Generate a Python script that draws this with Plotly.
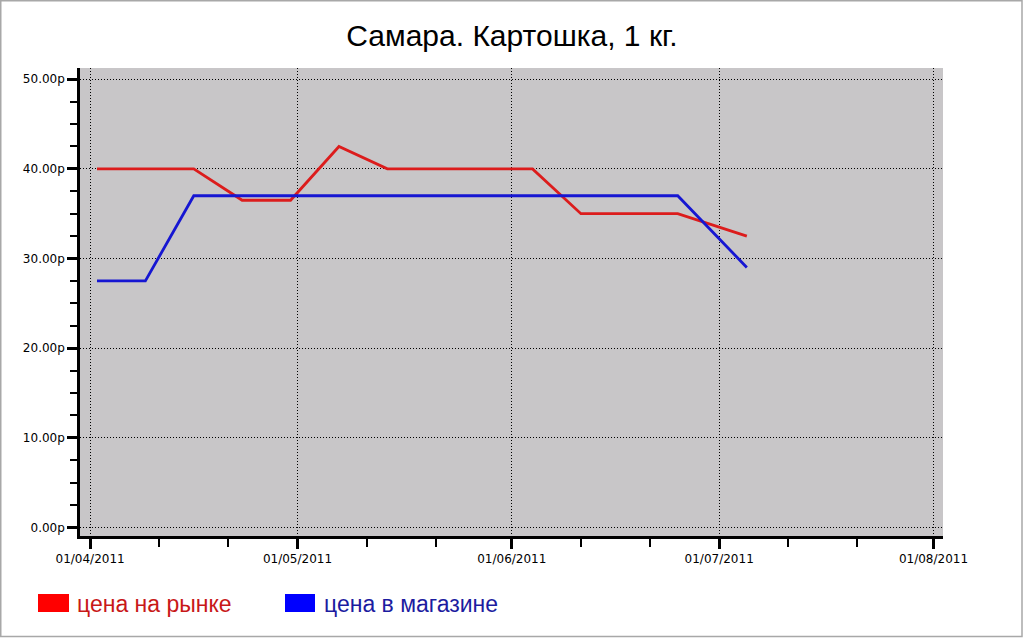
import plotly.graph_objects as go

# ---- data ----
dates = ["2011-04-02", "2011-04-09", "2011-04-16", "2011-04-23", "2011-04-30",
         "2011-05-07", "2011-05-14", "2011-05-21", "2011-05-28", "2011-06-04",
         "2011-06-11", "2011-06-18", "2011-06-25", "2011-07-05"]
market = [40, 40, 40, 36.5, 36.5, 42.5, 40, 40, 40, 40, 35, 35, 35, 32.5]
store = [27.5, 27.5, 37, 37, 37, 37, 37, 37, 37, 37, 37, 37, 37, 29]
month_ticks = ["2011-04-01", "2011-05-01", "2011-06-01", "2011-07-01", "2011-08-01"]
minor_ticks = ["2011-04-11", "2011-04-21", "2011-05-11", "2011-05-21",
               "2011-06-11", "2011-06-21", "2011-07-11", "2011-07-21"]
y_ticks = [0, 10, 20, 30, 40, 50]
y_tick_labels = ["0.00р", "10.00р", "20.00р", "30.00р", "40.00р", "50.00р"]
series_names = ["цена на рынке", "цена в магазине"]
title_text = "Самара. Картошка, 1 кг."

# ---- style ----
W, H = 1024, 638
L, R, T, B = 80, 943, 68, 536
line_colors = ["#dc1c1c", "#1616d2"]
swatch_colors = ["#ff0000", "#0000ff"]
text_colors = ["#c81818", "#1c1ca0"]


def px(x):
    return (x - L) / (R - L)


def py(y):
    return (B - y) / (B - T)


fig = go.Figure()
for vals, name, col in zip([market, store], series_names, line_colors):
    fig.add_trace(go.Scatter(x=dates, y=vals, mode="lines", name=name,
                             line=dict(color=col, width=2.8), showlegend=False))

tick_font = dict(family="DejaVu Sans", size=12, color="#000")
fig.update_layout(
    width=W, height=H,
    margin=dict(l=L, r=W - R, t=T, b=H - B, pad=0),
    paper_bgcolor="white", plot_bgcolor="#c8c6c8",
    title=dict(text=title_text, x=0.5, xref="container", xanchor="center",
               y=1 - 35 / H, yref="container", yanchor="middle",
               font=dict(family="Liberation Sans", size=30, color="#000")),
    xaxis=dict(type="date", range=["2011-03-30 13:00", "2011-08-02 09:00"],
               tickmode="array", tickvals=month_ticks, tickformat="%d/%m/%Y",
               showgrid=True, gridcolor="#000", gridwidth=1, griddash="1px,2px",
               showline=True, linecolor="#000", linewidth=2.5,
               ticks="outside", ticklen=10, tickwidth=2.5, tickcolor="#000",
               tickfont=tick_font, zeroline=False,
               minor=dict(tickmode="array", tickvals=minor_ticks, ticks="outside",
                          ticklen=8, tickwidth=1.5, tickcolor="#000", showgrid=False)),
    yaxis=dict(range=[-0.97, 51.26], tickmode="array", tickvals=y_ticks,
               ticktext=y_tick_labels,
               showgrid=True, gridcolor="#000", gridwidth=1, griddash="1px,2px",
               showline=True, linecolor="#000", linewidth=2.5,
               ticks="outside", ticklen=10, tickwidth=2.5, tickcolor="#000",
               tickfont=tick_font, zeroline=False,
               minor=dict(dtick=2.5, ticks="outside", ticklen=7, tickwidth=1.5,
                          tickcolor="#000", showgrid=False)),
)

shapes = []
annotations = []
# figure border
shapes.append(dict(type="rect", xref="paper", yref="paper",
                   x0=px(0.75), x1=px(W - 2), y0=py(0.75), y1=py(H - 1.5),
                   line=dict(color="#a8a8a8", width=1.5), fillcolor="rgba(0,0,0,0)",
                   layer="below"))
# custom legend
legend_x = [(38, 69, 75), (285, 315, 322)]
for (x0, x1, tx), name, sc, tc in zip(legend_x, series_names, swatch_colors, text_colors):
    shapes.append(dict(type="rect", xref="paper", yref="paper",
                       x0=px(x0), x1=px(x1), y0=py(612), y1=py(594),
                       fillcolor=sc, line=dict(width=0)))
    annotations.append(dict(text=name, xref="paper", yref="paper",
                            x=px(tx), y=py(604), xanchor="left", yanchor="middle",
                            showarrow=False,
                            font=dict(family="Liberation Sans", size=23, color=tc)))
fig.update_layout(shapes=shapes, annotations=annotations)

fig.write_html("out.html", config={"displayModeBar": False},
               post_script="document.body.style.margin='0';document.body.style.overflow='hidden';")
